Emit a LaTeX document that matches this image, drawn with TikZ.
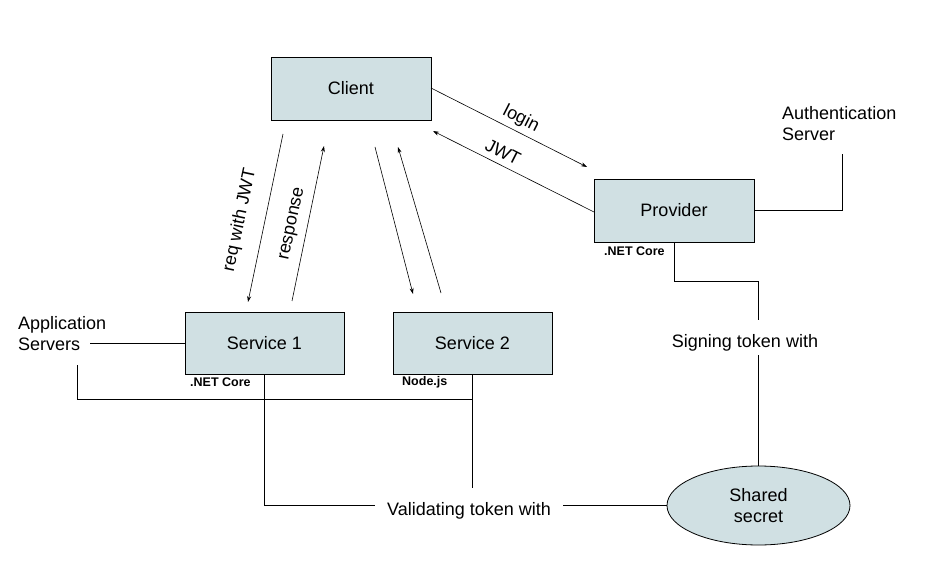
\documentclass[tikz,border=0pt]{standalone}
\usepackage{fontspec}
\setmainfont{Liberation Sans}
\usetikzlibrary{shapes.geometric,arrows.meta}
\definecolor{boxfill}{HTML}{D0E0E3}
\begin{document}
\begin{tikzpicture}[x=1pt,y=-1pt,
  box/.style={draw,fill=boxfill,line width=0.8pt,minimum width=160pt,minimum height=63pt,inner sep=0pt,font=\fontsize{18}{21}\selectfont},
  lbl/.style={font=\fontsize{18}{21}\selectfont,inner sep=0pt,align=left},
  small/.style={font=\bfseries\fontsize{12.5}{15}\selectfont,inner sep=0pt,anchor=west},
  conn/.style={line width=0.8pt},
  arr/.style={line width=0.6pt,-{Stealth[length=6pt,width=4pt]}}]
\useasboundingbox (0,0) rectangle (935,580);

% boxes
\node[box] (client) at (351,88.5) {Client};
\node[box] (prov) at (674,210.5) {Provider};
\node[box,minimum width=159pt,minimum height=62pt] (s1) at (264.5,343) {Service 1};
\node[box,minimum width=159pt,minimum height=62pt] (s2) at (472.5,343) {Service 2};
\node[draw,fill=boxfill,line width=0.8pt,ellipse,minimum width=183pt,minimum height=79pt,inner sep=0pt,align=center,font=\fontsize{18}{21}\selectfont] (ss) at (758.5,505.5) {Shared\\secret};

% small labels
\node[small] (n1) at (190,382.5) {.NET Core};
\node[small] (n2) at (402,382.5) {Node.js};
\node[small] (n3) at (604,251) {.NET Core};

% text labels
\node[lbl,anchor=base west] (appsrv) at (18,350.5) {Application\\Servers};
\node[lbl,anchor=base west] (authsrv) at (782,140.5) {Authentication\\Server};
\node[lbl,anchor=base] (valid) at (469,515) {Validating token with};
\node[lbl,anchor=base] (sign) at (745,347) {Signing token with};

% arrows
\coordinate (loginS) at (431,88);  \coordinate (loginE) at (587,167);
\coordinate (jwtS) at (594,212);   \coordinate (jwtE) at (433,131);
\coordinate (reqS) at (283,134);   \coordinate (reqE) at (248,302);
\coordinate (respS) at (292,301);  \coordinate (respE) at (324,146);
\coordinate (s2aS) at (375,147);   \coordinate (s2aE) at (413,294);
\coordinate (s2bS) at (441,293);   \coordinate (s2bE) at (398,147);
\draw[arr] (loginS) -- (loginE);
\draw[arr] (jwtS) -- (jwtE);
\draw[arr] (reqS) -- (reqE);
\draw[arr] (respS) -- (respE);
\draw[arr] (s2aS) -- (s2aE);
\draw[arr] (s2bS) -- (s2bE);

\node[lbl,rotate=-27] (llogin) at (521,119) {login};
\node[lbl,rotate=-27] (ljwt) at (503,152) {JWT};
\node[lbl,rotate=78] (lreq) at (240,220) {req with JWT};
\node[lbl,rotate=78] (lresp) at (293,224) {response};

% connectors
\coordinate (asA) at (90,343);
\draw[conn] (asA) -- (s1.west);
\coordinate (asB) at (77,365);
\coordinate (busR) at (472.5,399);
\draw[conn] (asB) |- (busR);
\coordinate (s2end) at (472.5,488);
\draw[conn] (s2.south) -- (s2end);
\coordinate (vL) at (375,505.5);
\coordinate (vR) at (563,505.5);
\draw[conn] (s1.south) |- (vL);
\draw[conn] (vR) -- (ss.west);

\coordinate (bend) at (758.5,281);
\coordinate (sgTop) at (758.5,320);
\coordinate (sgBot) at (758.5,355);
\draw[conn] (prov.south) |- (bend) -- (sgTop);
\draw[conn] (sgBot) -- (ss.north);

\coordinate (authC) at (842,154);
\draw[conn] (prov.east) -| (authC);
\end{tikzpicture}
\end{document}
